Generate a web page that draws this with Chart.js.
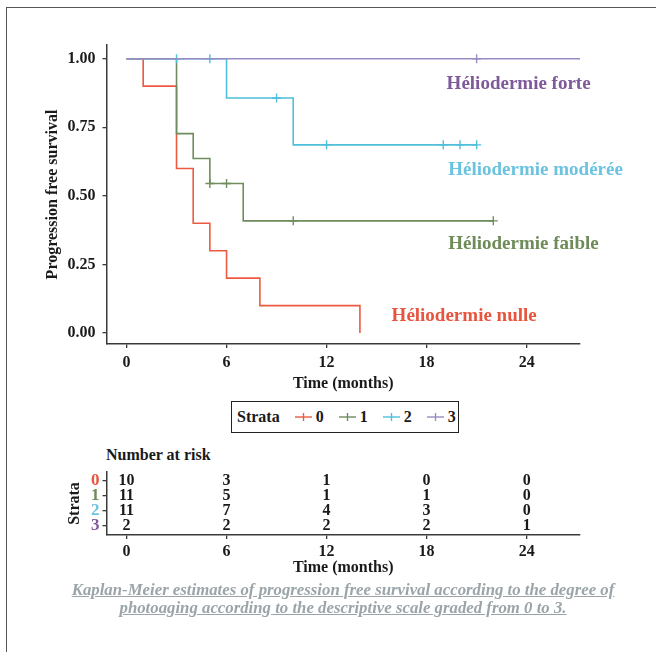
<!DOCTYPE html>
<html>
<head>
<meta charset="utf-8">
<script src="https://cdn.jsdelivr.net/npm/chart.js@4.4.1/dist/chart.umd.min.js"></script>
<style>
  html, body { margin: 0; padding: 0; background: #fff; }
  #fig {
    position: relative; width: 656px; height: 652px; overflow: hidden;
    font-family: "Liberation Serif", "Times New Roman", serif; font-weight: bold; color: #1a1a1a;
  }
  #frame {
    position: absolute; left: 6px; top: 7px; width: 700px; height: 700px;
    border-top: 1.5px solid #555; border-left: 1.5px solid #555;
  }
  #km { position: absolute; left: 0; top: 0; }
  #risk { position: absolute; left: 0; top: 440px; }
  #legend {
    position: absolute; left: 231px; top: 401px; width: 228px; height: 32px;
    box-sizing: border-box; border: 1.5px solid #222;
    display: flex; align-items: center; padding-left: 5px; font-size: 16px; white-space: nowrap;
  }
  #legend .item { display: flex; align-items: center; margin-left: 15px; }
  #legend .item:first-of-type { margin-left: 5px; }
  #legend svg { margin-right: 4px; }
  #risk-title { position: absolute; left: 106px; top: 446px; font-size: 16px; line-height: 18px; }
  #caption {
    position: absolute; left: 13px; top: 581px; width: 660px; text-align: center;
    font-size: 16.8px; line-height: 18px; font-style: italic; color: #9aa4a9;
    text-decoration: underline;
  }
</style>
</head>
<body>
<div id="fig">
  <div id="frame"></div>
  <canvas id="km" width="656" height="400"></canvas>
  <div id="legend"><span>Strata</span></div>
  <div id="risk-title">Number at risk</div>
  <canvas id="risk" width="656" height="145"></canvas>
  <div id="caption">Kaplan-Meier estimates of progression free survival according to the degree of<br>photoaging according to the descriptive scale graded from 0 to 3.</div>
</div>
<script>
const SERIF = '"Liberation Serif", "Times New Roman", serif';

const timeTicks = [0, 6, 12, 18, 24];
const survTicks = [0, 0.25, 0.5, 0.75, 1];

const strataNames = ['0', '1', '2', '3'];
const strataColors = ['#ec5a3f', '#6f8c5c', '#4fbfdc', '#9a8cc2'];
const labelColors = ['#e8553e', '#6e8b5a', '#6cc3e0', '#7e5a9b'];
const labelText = ['Héliodermie nulle', 'Héliodermie faible', 'Héliodermie modérée', 'Héliodermie forte'];

// KM step curves (time in months, survival)
const nulleTime = [0, 1, 3, 4, 5, 6, 8, 14];
const nulleSurv = [1, 0.9, 0.6, 0.4, 0.3, 0.2, 0.1, 0];
const nulleCensorTime = [];
const nulleCensorSurv = [];

const faibleTime = [0, 3, 4, 5, 7, 22];
const faibleSurv = [1, 0.727, 0.636, 0.545, 0.409, 0.409];
const faibleCensorTime = [5, 6, 10, 22];
const faibleCensorSurv = [0.545, 0.545, 0.409, 0.409];

const modereeTime = [0, 6, 10, 21];
const modereeSurv = [1, 0.857, 0.686, 0.686];
const modereeCensorTime = [3, 5, 9, 12, 19, 20, 21];
const modereeCensorSurv = [1, 1, 0.857, 0.686, 0.686, 0.686, 0.686];

const forteTime = [0, 27.2];
const forteSurv = [1, 1];
const forteCensorTime = [21];
const forteCensorSurv = [1];

// number at risk at timeTicks, per stratum
const risk0 = [10, 3, 1, 0, 0];
const risk1 = [11, 5, 1, 1, 0];
const risk2 = [11, 7, 4, 3, 0];
const risk3 = [2, 2, 2, 2, 1];

// where the stratum names sit, in data units (left edge, middle)
const labelAnchors = [[15.9, 0.06], [19.3, 0.325], [19.3, 0.594], [19.2, 0.909]];

const curves = [
  [nulleTime, nulleSurv, nulleCensorTime, nulleCensorSurv],
  [faibleTime, faibleSurv, faibleCensorTime, faibleCensorSurv],
  [modereeTime, modereeSurv, modereeCensorTime, modereeCensorSurv],
  [forteTime, forteSurv, forteCensorTime, forteCensorSurv],
];
const riskRows = [risk0, risk1, risk2, risk3];

const pts = (xs, ys) => xs.map((x, i) => ({ x, y: ys[i] }));
const axisColor = '#3a3a3a';
const boldFont = { family: SERIF, size: 16, weight: 'bold' };

// legend markers
const legendEl = document.getElementById('legend');
strataNames.forEach((name, i) => {
  const c = strataColors[i];
  const item = document.createElement('span');
  item.className = 'item';
  item.innerHTML = `<svg width="17" height="10"><line x1="0" y1="5" x2="17" y2="5" stroke="${c}" stroke-width="1.4"/>` +
    `<line x1="8.5" y1="1" x2="8.5" y2="9" stroke="${c}" stroke-width="1.4"/></svg><span>${name}</span>`;
  legendEl.appendChild(item);
});

const kmDatasets = [];
curves.forEach(([t, s, ct, cs], i) => {
  kmDatasets.push({
    data: pts(t, s), showLine: true, stepped: 'before',
    borderColor: strataColors[i], borderWidth: 1.6, pointRadius: 0, order: 10 - 2 * i,
  });
  kmDatasets.push({
    data: pts(ct, cs), showLine: false, pointStyle: 'cross', pointRadius: 4.5,
    borderColor: strataColors[i], borderWidth: 1.4, order: 9 - 2 * i,
  });
});

const stratumLabels = {
  id: 'stratumLabels',
  afterDatasetsDraw(chart) {
    const { ctx, scales: { x, y } } = chart;
    ctx.save();
    ctx.font = `bold 19px ${SERIF}`;
    ctx.textAlign = 'left';
    ctx.textBaseline = 'middle';
    labelText.forEach((txt, i) => {
      ctx.fillStyle = labelColors[i];
      ctx.fillText(txt, x.getPixelForValue(labelAnchors[i][0]), y.getPixelForValue(labelAnchors[i][1]));
    });
    ctx.restore();
  }
};

new Chart(document.getElementById('km'), {
  type: 'scatter',
  data: { datasets: kmDatasets },
  options: {
    responsive: false, animation: false,
    layout: { padding: { top: 45, right: 76, left: 0, bottom: 0 } },
    plugins: { legend: { display: false }, tooltip: { enabled: false } },
    scales: {
      x: {
        type: 'linear', min: -1.2, max: 27.2,
        afterFit: (s) => { s.height = 56; },
        afterBuildTicks: (s) => { s.ticks = timeTicks.map((v) => ({ value: v })); },
        grid: { drawOnChartArea: false, tickLength: 4, color: axisColor, lineWidth: 1.3 },
        border: { color: axisColor, width: 1.5 },
        ticks: { color: '#1a1a1a', font: boldFont, padding: 5 },
        title: { display: true, text: 'Time (months)', color: '#1a1a1a', font: boldFont, padding: { top: 0, bottom: 7 } },
      },
      y: {
        type: 'linear', min: -0.04, max: 1.05,
        afterFit: (s) => { s.width = 106.5; },
        afterBuildTicks: (s) => { s.ticks = survTicks.map((v) => ({ value: v })); },
        grid: { drawOnChartArea: false, tickLength: 4, color: axisColor, lineWidth: 1.3 },
        border: { color: axisColor, width: 1.5 },
        ticks: { color: '#1a1a1a', font: boldFont, padding: 7, callback: (v) => v.toFixed(2) },
        title: { display: true, text: 'Progression free survival', color: '#1a1a1a', font: boldFont, padding: { top: 43, bottom: 0 } },
      },
    },
  },
  plugins: [stratumLabels],
});

// risk table
const riskDatasets = riskRows.map((row, i) => ({
  data: timeTicks.map((t, j) => ({ x: t, y: i, n: row[j] })),
  pointRadius: 0, showLine: false,
}));

const riskNumbers = {
  id: 'riskNumbers',
  afterDatasetsDraw(chart) {
    const { ctx } = chart;
    ctx.save();
    ctx.font = `bold 16px ${SERIF}`;
    ctx.fillStyle = '#1a1a1a';
    ctx.textAlign = 'center';
    ctx.textBaseline = 'middle';
    chart.data.datasets.forEach((ds, i) => {
      chart.getDatasetMeta(i).data.forEach((el, j) => {
        ctx.fillText(String(ds.data[j].n), el.x, el.y + 1);
      });
    });
    ctx.restore();
  }
};

new Chart(document.getElementById('risk'), {
  type: 'scatter',
  data: { datasets: riskDatasets },
  options: {
    responsive: false, animation: false,
    layout: { padding: { top: 32, right: 76, left: 0, bottom: 0 } },
    plugins: { legend: { display: false }, tooltip: { enabled: false } },
    scales: {
      x: {
        type: 'linear', min: -1.2, max: 27.2,
        afterFit: (s) => { s.height = 50; },
        afterBuildTicks: (s) => { s.ticks = timeTicks.map((v) => ({ value: v })); },
        grid: { drawOnChartArea: false, tickLength: 4, color: axisColor, lineWidth: 1.3 },
        border: { color: axisColor, width: 1.5 },
        ticks: { color: '#1a1a1a', font: boldFont, padding: 3 },
        title: { display: true, text: 'Time (months)', color: '#1a1a1a', font: boldFont, padding: { top: 0, bottom: 8 } },
      },
      y: {
        type: 'linear', reverse: true, min: -0.55, max: 3.65,
        afterFit: (s) => { s.width = 106.5; },
        afterBuildTicks: (s) => { s.ticks = strataNames.map((_, i) => ({ value: i })); },
        grid: { drawOnChartArea: false, tickLength: 4, color: axisColor, lineWidth: 1.3 },
        border: { color: axisColor, width: 1.5 },
        ticks: {
          font: { family: SERIF, size: 17, weight: 'bold' }, padding: 3, autoSkip: false,
          color: (c) => labelColors[c.index],
          callback: (v) => strataNames[v],
        },
        title: { display: true, text: 'Strata', color: '#1a1a1a', font: boldFont, padding: { top: 65, bottom: 0 } },
      },
    },
  },
  plugins: [riskNumbers],
});
</script>
</body>
</html>
